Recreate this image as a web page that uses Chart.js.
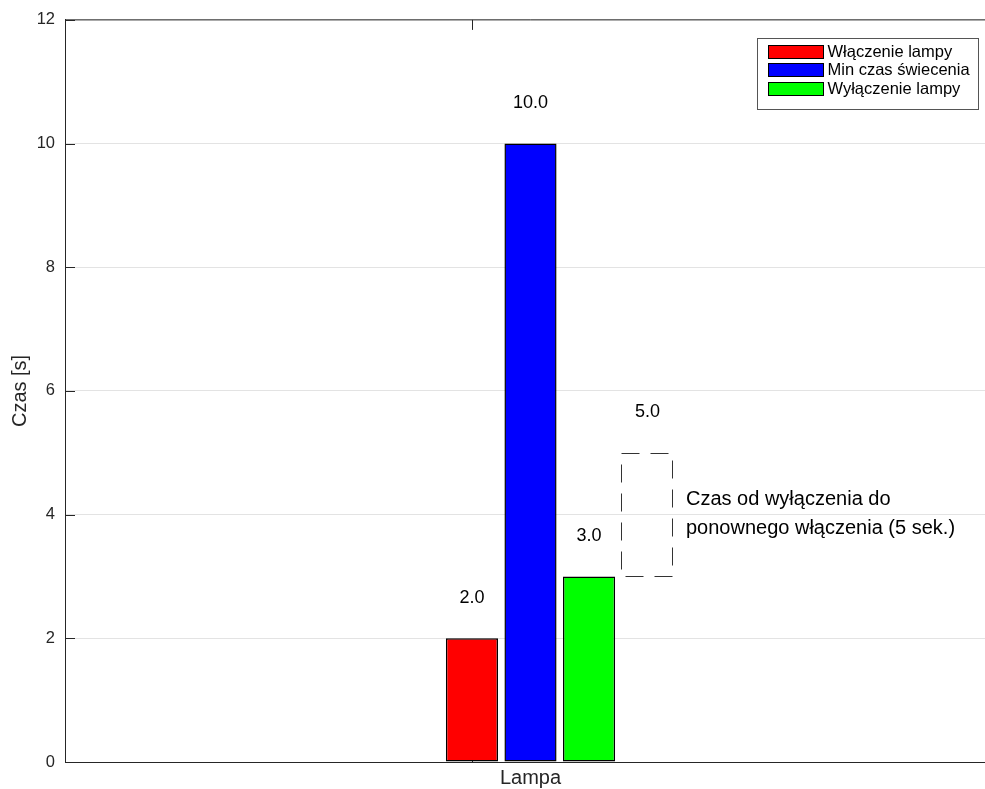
<!DOCTYPE html>
<html>
<head>
<meta charset="utf-8">
<script src="https://cdn.jsdelivr.net/npm/chart.js@4/dist/chart.umd.min.js"></script>
<style>
  html, body { margin: 0; padding: 0; overflow: hidden; background: #fff; width: 985px; height: 789px; }
  #wrap { position: absolute; left: 0; top: 0; width: 996px; height: 789px; }
  canvas { display: block; }
</style>
</head>
<body>
<div id="wrap"><canvas id="chart" width="996" height="789"></canvas></div>
<script>
// ---- data ----
const categories = ['Lampa'];
const seriesNames = ['Włączenie lampy', 'Min czas świecenia', 'Wyłączenie lampy'];
const seriesValues = [2, 10, 3];
const seriesX = [0.8, 1.0, 1.2];
const seriesColors = ['#ff0000', '#0000ff', '#00ff00'];
const gapRange = [3, 5];
const gapX = 1.4;
const gapLines = ['Czas od wyłączenia do', 'ponownego włączenia (5 sek.)'];
const yTicks = [0, 2, 4, 6, 8, 10, 12];
const xLimits = [-0.59, 2.59];
const yLimits = [0, 12];
const yLabel = 'Czas [s]';

const FONT = '"Liberation Sans", Arial, Helvetica, sans-serif';
const AXIS = '#262626';

const datasets = seriesNames.map((name, i) => ({
  label: name,
  data: [{ x: seriesX[i], y: seriesValues[i] }],
  backgroundColor: seriesColors[i],
  borderColor: '#000000',
  borderWidth: 1.5,
  borderSkipped: false,
  inflateAmount: 0
}));
datasets.push({
  label: '__gap',
  isGap: true,
  data: [{ x: gapX, y: gapRange }],
  backgroundColor: 'rgba(0,0,0,0)',
  borderWidth: 0
});

const overlay = {
  id: 'overlay',
  beforeDatasetsDraw(chart) {
    const ctx = chart.ctx;
    const ca = chart.chartArea;
    const xs = chart.scales.x, ys = chart.scales.y;
    ctx.save();
    ctx.strokeStyle = AXIS;
    ctx.lineWidth = 1;
    // top and right spines
    ctx.beginPath();
    ctx.moveTo(ca.left, ca.top);
    ctx.lineTo(ca.right, ca.top);
    ctx.moveTo(ca.right - 0.5, ca.top);
    ctx.lineTo(ca.right - 0.5, ca.bottom);
    ctx.stroke();
    // inward tick marks
    ctx.beginPath();
    yTicks.forEach(v => {
      const py = Math.round(ys.getPixelForValue(v)) + 0.5;
      ctx.moveTo(ca.left, py); ctx.lineTo(ca.left + 10, py);
      ctx.moveTo(ca.right, py); ctx.lineTo(ca.right - 10, py);
    });
    const tx = Math.round(xs.getPixelForValue(seriesX[0])) + 0.5;
    ctx.moveTo(tx, ca.bottom); ctx.lineTo(tx, ca.bottom - 10);
    ctx.moveTo(tx, ca.top); ctx.lineTo(tx, ca.top + 10);
    ctx.stroke();
    ctx.restore();
  },
  afterDatasetsDraw(chart) {
    const ctx = chart.ctx;
    const ca = chart.chartArea;
    const ys = chart.scales.y;
    ctx.save();

    // value labels above bars
    ctx.fillStyle = '#000';
    ctx.font = '18px ' + FONT;
    ctx.textAlign = 'center';
    ctx.textBaseline = 'alphabetic';
    let gapEl = null;
    chart.data.datasets.forEach((ds, i) => {
      const el = chart.getDatasetMeta(i).data[0];
      if (!el) return;
      const top = Math.min(el.y, el.base);
      const val = ds.isGap ? Math.max(...ds.data[0].y) : ds.data[0].y;
      ctx.fillText(val.toFixed(1), el.x, top - 35.5);
      if (ds.isGap) gapEl = el;
    });

    // dashed box for the gap
    if (gapEl) {
      const l = Math.round(gapEl.x - gapEl.width / 2) - 0.5;
      const r = Math.round(gapEl.x + gapEl.width / 2) - 1.5;
      const t = Math.round(Math.min(gapEl.y, gapEl.base)) + 0.5;
      const b = Math.round(Math.max(gapEl.y, gapEl.base)) + 0.5;
      ctx.strokeStyle = '#333333';
      ctx.lineWidth = 1;
      ctx.setLineDash([18, 11]);
      ctx.beginPath();
      ctx.moveTo(l, t); ctx.lineTo(r, t); ctx.lineTo(r, b); ctx.lineTo(l, b); ctx.closePath();
      ctx.stroke();
      ctx.setLineDash([]);

      // annotation text
      const mid = ys.getPixelForValue((gapRange[0] + gapRange[1]) / 2);
      ctx.fillStyle = '#000';
      ctx.font = '20px ' + FONT;
      ctx.textAlign = 'left';
      ctx.fillText(gapLines[0], r + 13.5, mid - 9.5);
      ctx.fillText(gapLines[1], r + 13.5, mid + 19.5);
    }

    // legend box (north-east)
    ctx.font = '16.5px ' + FONT;
    const names = chart.data.datasets.filter(d => !d.isGap);
    const maxW = Math.max(...names.map(d => ctx.measureText(d.label).width));
    const boxW = Math.round(11 + 55 + 4 + maxW + 9);
    const boxH = 71;
    const bx = Math.round(ca.right - 18 - boxW) + 0.5;
    const by = Math.round(ca.top + 18) + 0.5;
    ctx.fillStyle = '#ffffff';
    ctx.fillRect(bx, by, boxW, boxH);
    ctx.strokeStyle = '#555555';
    ctx.lineWidth = 1;
    ctx.strokeRect(bx, by, boxW, boxH);
    names.forEach((d, i) => {
      const cy = by + 13 + i * 18.7;
      const sx = Math.round(bx + 10.5) + 0.5;
      const sy = Math.round(cy - 7) + 0.5;
      ctx.fillStyle = d.backgroundColor;
      ctx.fillRect(sx, sy, 55, 13);
      ctx.strokeStyle = '#000';
      ctx.strokeRect(sx, sy, 55, 13);
      ctx.fillStyle = '#000';
      ctx.textAlign = 'left';
      ctx.textBaseline = 'middle';
      ctx.fillText(d.label, bx + 70, cy + 0.5);
    });

    ctx.restore();
  }
};

new Chart(document.getElementById('chart'), {
  type: 'bar',
  data: { datasets },
  plugins: [overlay],
  options: {
    responsive: false,
    animation: false,
    devicePixelRatio: 1,
    layout: { padding: { top: 19, right: 0, left: 0, bottom: 0 } },
    datasets: { bar: { grouped: false, categoryPercentage: 1, barPercentage: 0.89 } },
    plugins: { legend: { display: false }, tooltip: { enabled: false } },
    scales: {
      x: {
        type: 'linear',
        offset: false,
        bounds: 'data',
        min: xLimits[0],
        max: xLimits[1],
        grid: { display: false, drawTicks: false, offset: false },
        border: { display: true, color: AXIS, width: 1 },
        afterBuildTicks: s => { s.ticks = [{ value: seriesX.reduce((a, b) => a + b, 0) / seriesX.length }]; },
        ticks: {
          callback: () => categories[0],
          padding: 4,
          autoSkip: false,
          maxRotation: 0,
          color: AXIS,
          font: { family: FONT, size: 20 }
        },
        afterFit: s => { s.height = 27; }
      },
      y: {
        min: yLimits[0],
        max: yLimits[1],
        afterBuildTicks: s => { s.ticks = yTicks.map(v => ({ value: v })); },
        grid: { color: '#e3e3e3', drawTicks: false },
        border: { display: true, color: AXIS, width: 1 },
        ticks: {
          padding: 10,
          color: AXIS,
          font: { family: FONT, size: 16.5 }
        },
        title: {
          display: true,
          text: yLabel,
          color: AXIS,
          font: { family: FONT, size: 20 },
          padding: { top: 8, bottom: 0 }
        },
        afterFit: s => { s.width = 65; }
      }
    }
  }
});
</script>
</body>
</html>
